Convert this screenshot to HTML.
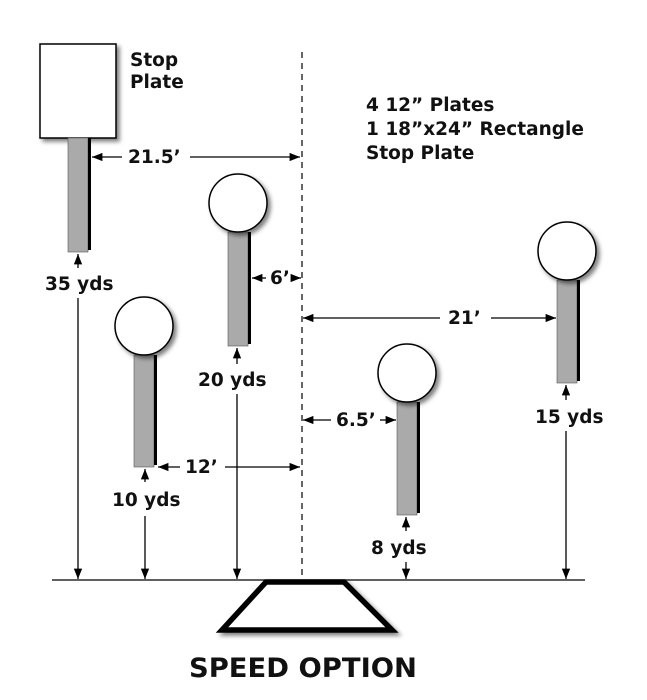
<!DOCTYPE html>
<html><head><style>
html,body{margin:0;padding:0;background:#fff;}
svg{display:block;}
text{font-family:"DejaVu Sans","Liberation Sans",sans-serif;font-weight:bold;fill:#111;}
</style></head><body>
<svg width="647" height="700" viewBox="0 0 647 700" xmlns="http://www.w3.org/2000/svg">
<defs>
<marker id="a" viewBox="0 0 10 10" refX="10" refY="5" markerWidth="8" markerHeight="8" orient="auto-start-reverse"><path d="M0,1 L10,5 L0,9 z" fill="#000"/></marker>
<filter id="s" x="-30%" y="-30%" width="160%" height="160%"><feDropShadow dx="3" dy="3" stdDeviation="2" flood-color="#000" flood-opacity="0.5"/></filter>
</defs>
<line x1="302" y1="52" x2="302" y2="575" stroke="#000" stroke-width="1.2" stroke-dasharray="6,5"/>
<line x1="52" y1="580" x2="585" y2="580" stroke="#000" stroke-width="1.3"/>
<rect x="40" y="44" width="76" height="94" fill="#fff" stroke="#000" stroke-width="1.5" filter="url(#s)"/>
<rect x="68" y="138" width="20" height="114" fill="#aaa" stroke="#555" stroke-width="0.6"/>
<rect x="88" y="138" width="3" height="112" fill="#000"/>
<rect x="228" y="232" width="20" height="114" fill="#aaa" stroke="#555" stroke-width="0.6"/>
<rect x="248" y="232" width="3" height="112" fill="#000"/>
<circle cx="238" cy="203" r="29" fill="#fff" stroke="#000" stroke-width="1.5" filter="url(#s)"/>
<rect x="134" y="355" width="20" height="112" fill="#aaa" stroke="#555" stroke-width="0.6"/>
<rect x="154" y="355" width="3" height="110" fill="#000"/>
<circle cx="144" cy="326" r="29" fill="#fff" stroke="#000" stroke-width="1.5" filter="url(#s)"/>
<rect x="397" y="402" width="20" height="113" fill="#aaa" stroke="#555" stroke-width="0.6"/>
<rect x="417" y="402" width="3" height="111" fill="#000"/>
<circle cx="407" cy="373" r="29" fill="#fff" stroke="#000" stroke-width="1.5" filter="url(#s)"/>
<rect x="557" y="280" width="20" height="103" fill="#aaa" stroke="#555" stroke-width="0.6"/>
<rect x="577" y="280" width="3" height="101" fill="#000"/>
<circle cx="567" cy="251" r="29" fill="#fff" stroke="#000" stroke-width="1.5" filter="url(#s)"/>

<g stroke="#000" stroke-width="1.3" fill="none">
<line x1="92" y1="157" x2="122" y2="157" marker-start="url(#a)"/>
<line x1="190" y1="157" x2="300" y2="157" marker-end="url(#a)"/>
<line x1="252" y1="278" x2="266" y2="278" marker-start="url(#a)"/>
<line x1="295" y1="278" x2="301" y2="278" marker-end="url(#a)"/>
<line x1="303" y1="318" x2="440" y2="318" marker-start="url(#a)"/>
<line x1="491" y1="318" x2="556" y2="318" marker-end="url(#a)"/>
<line x1="303" y1="420" x2="331" y2="420" marker-start="url(#a)"/>
<line x1="380" y1="420" x2="396" y2="420" marker-end="url(#a)"/>
<line x1="158" y1="467" x2="180" y2="467" marker-start="url(#a)"/>
<line x1="225" y1="467" x2="300" y2="467" marker-end="url(#a)"/>
<line x1="78" y1="254" x2="78" y2="268" marker-start="url(#a)"/>
<line x1="78" y1="298" x2="78" y2="579" marker-end="url(#a)"/>
<line x1="237" y1="348" x2="237" y2="364" marker-start="url(#a)"/>
<line x1="237" y1="394" x2="237" y2="579" marker-end="url(#a)"/>
<line x1="145" y1="469" x2="145" y2="482" marker-start="url(#a)"/>
<line x1="145" y1="516" x2="145" y2="579" marker-end="url(#a)"/>
<line x1="406" y1="517" x2="406" y2="531" marker-start="url(#a)"/>
<line x1="406" y1="562" x2="406" y2="579" marker-end="url(#a)"/>
<line x1="566" y1="385" x2="566" y2="400" marker-start="url(#a)"/>
<line x1="566" y1="431" x2="566" y2="579" marker-end="url(#a)"/>
</g>
<path d="M266,582 L344,582 L392,630 L222,630 Z" fill="#fff" stroke="#000" stroke-width="5.5" stroke-linejoin="miter" filter="url(#s)"/>

<g font-size="18.5">
<text x="130" y="66">Stop</text>
<text x="130" y="88">Plate</text>
<text x="366" y="111">4 12” Plates</text>
<text x="366" y="135">1 18”x24” Rectangle</text>
<text x="366" y="159">Stop Plate</text>
<text x="128" y="163">21.5’</text>
<text x="270" y="284">6’</text>
<text x="448" y="324">21’</text>
<text x="336" y="426">6.5’</text>
<text x="185" y="473">12’</text>
<text x="45" y="290">35 yds</text>
<text x="198" y="386">20 yds</text>
<text x="112" y="506">10 yds</text>
<text x="371" y="554">8 yds</text>
<text x="535" y="423">15 yds</text>
</g>
<text x="189" y="677" font-size="27" textLength="228" lengthAdjust="spacingAndGlyphs">SPEED OPTION</text>
</svg>
</body></html>
